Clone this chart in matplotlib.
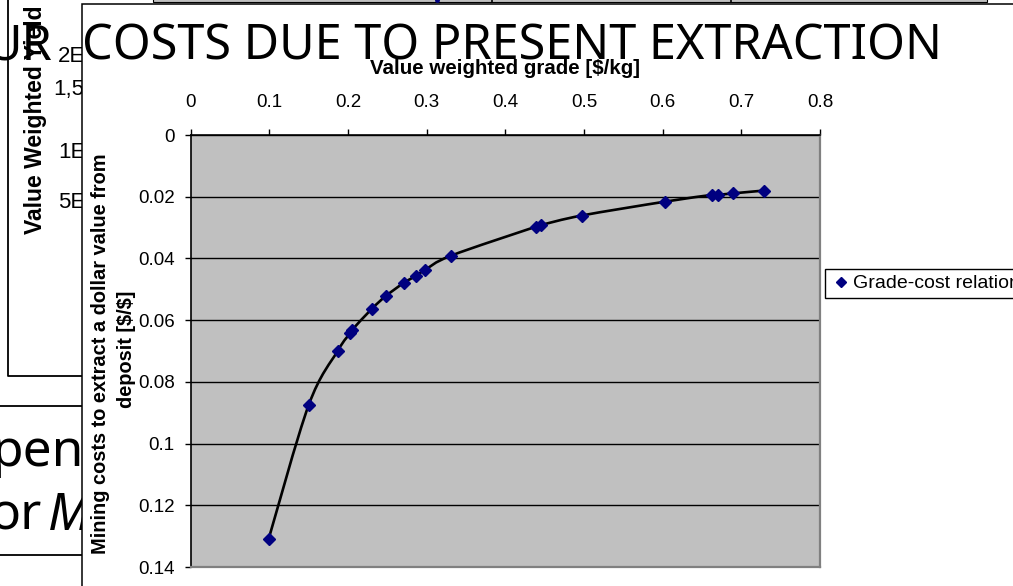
import numpy as np
import matplotlib
matplotlib.use("Agg")
import matplotlib.pyplot as plt
from matplotlib.path import Path
from matplotlib.patches import PathPatch, Rectangle

plt.rcParams['font.family'] = ['Liberation Sans', 'DejaVu Sans']

# grade vs. cost of extracting one dollar of value
grade = [0.099, 0.150, 0.187, 0.203, 0.205, 0.230, 0.248, 0.271, 0.286, 0.298,
         0.331, 0.439, 0.445, 0.497, 0.603, 0.663, 0.670, 0.690, 0.729]
cost = [0.131, 0.0875, 0.0699, 0.0641, 0.0632, 0.0564, 0.0522, 0.0479, 0.0457, 0.0437,
        0.0391, 0.0297, 0.0292, 0.0261, 0.0216, 0.0194, 0.0194, 0.0189, 0.0180]

x_ticks = [0, 0.1, 0.2, 0.3, 0.4, 0.5, 0.6, 0.7, 0.8]
x_ticklabels = ['0', '0.1', '0.2', '0.3', '0.4', '0.5', '0.6', '0.7', '0.8']
y_ticks = [0, 0.02, 0.04, 0.06, 0.08, 0.1, 0.12, 0.14]
y_ticklabels = ['0', '0.02', '0.04', '0.06', '0.08', '0.1', '0.12', '0.14']

# slide leftovers behind the chart
old_ticks = ['2E+09', '1,5E+09', '1E+09', '5E+08']

W, H = 1013, 586


def fx(px):
    return px / W


def fy(py):
    return 1 - py / H


fig = plt.figure(figsize=(W / 100, H / 100), dpi=100)

# background layer in pixel coordinates
bg = fig.add_axes([0, 0, 1, 1])
bg.set_xlim(0, W)
bg.set_ylim(H, 0)
bg.set_axis_off()
bg.set_zorder(-1)

bg.plot([8, 8, 90], [-5, 376, 376], color='black', lw=1.3, zorder=2)
bg.plot([-5, 90], [406, 406], color='black', lw=1.3, zorder=2)
bg.plot([-5, 90], [555, 555], color='black', lw=1.3, zorder=2)
bg.text(36, 234, 'Value Weighted Yield', rotation=90, ha='center', va='bottom',
        fontsize=16.5, fontweight='bold', zorder=2)
for lab, xx, yy in zip(old_ticks, [58, 53, 58, 58], [57, 90, 152, 202]):
    bg.text(xx, yy, lab, ha='left', va='center', fontsize=16, zorder=2)
bg.text(84, 466, 'pen', ha='right', va='baseline', fontsize=37,
        family=['Noto Sans', 'DejaVu Sans'], zorder=2)
bg.text(42, 530, 'or', ha='right', va='baseline', fontsize=37,
        family=['Noto Sans', 'DejaVu Sans'], zorder=2)
bg.text(48, 530, 'M', ha='left', va='baseline', fontsize=37, style='italic',
        family=['Noto Sans', 'DejaVu Sans'], zorder=2)

# chart object frame
bg.add_patch(Rectangle((82, 3.5), 1000, 600, facecolor='white',
                       edgecolor='black', lw=1.1, zorder=5))
bg.add_patch(Rectangle((153, -5), 834, 7.2, facecolor='#c0c0c0',
                       edgecolor='black', lw=0.8, zorder=6))
for xx in [492, 731]:
    bg.plot([xx, xx], [-1, 2.2], color='black', lw=1.2, zorder=7)
bg.plot([437], [0], 'o', ms=2.5, color='#000080', zorder=7)

# main plot area
ax = fig.add_axes([fx(190.7), fy(567), (820 - 190.7) / W, (567 - 135) / H])
ax.set_facecolor('#c0c0c0')
ax.set_xlim(0, 0.8)
ax.set_ylim(0.14, 0)
ax.xaxis.tick_top()
ax.set_xticks(x_ticks)
ax.set_xticklabels(x_ticklabels)
ax.set_yticks(y_ticks)
ax.set_yticklabels(y_ticklabels)
ax.tick_params(axis='x', direction='out', length=4, width=1, pad=13, labelsize=13.5)
ax.tick_params(axis='y', direction='out', length=4.5, width=1, pad=7, labelsize=13.5)
ax.yaxis.grid(True, color='black', lw=1.0)
ax.set_axisbelow(True)
for s in ['left', 'top']:
    ax.spines[s].set_color('black')
    ax.spines[s].set_linewidth(1.2)
for s in ['right', 'bottom']:
    ax.spines[s].set_color('#808080')
    ax.spines[s].set_linewidth(1.6)

# smoothed line through the points (cubic Bezier segments)
pts = np.column_stack([grade, cost])
n = len(pts)
verts = [pts[0]]
codes = [Path.MOVETO]
for i in range(n - 1):
    p0 = pts[max(i - 1, 0)]
    p1 = pts[i]
    p2 = pts[i + 1]
    p3 = pts[min(i + 2, n - 1)]
    verts += [p1 + (p2 - p0) / 6, p2 - (p3 - p1) / 6, p2]
    codes += [Path.CURVE4] * 3
ax.add_patch(PathPatch(Path(verts, codes), fill=False, edgecolor='black',
                       lw=1.9, zorder=3))
ax.plot(grade, cost, linestyle='none', marker='D', ms=6, color='#000080',
        mec='#000080', label='Grade-cost relation', zorder=4)

leg = ax.legend(loc='upper left', bbox_to_anchor=(fx(825), fy(269)),
                bbox_transform=fig.transFigure, frameon=True, fancybox=False,
                edgecolor='black', borderaxespad=0, borderpad=0.3,
                handlelength=1.0, handletextpad=0.15, fontsize=14,
                markerscale=0.8, numpoints=1)
leg.get_frame().set_linewidth(1)
leg.get_frame().set_alpha(None)

fig.text(fx(505), fy(69), 'Value weighted grade [$/kg]', ha='center', va='center',
         fontsize=14.8, fontweight='bold', parse_math=False)
fig.text(fx(100), fy(354), 'Mining costs to extract a dollar value from', rotation=90,
         ha='center', va='center', fontsize=14.4, fontweight='bold', parse_math=False)
fig.text(fx(127), fy(349), 'deposit [$/$]', rotation=90, ha='center', va='center',
         fontsize=14.4, fontweight='bold', parse_math=False)

# slide title on top of everything
title_font = ['Noto Sans', 'DejaVu Sans']
fig.text(fx(52), fy(60), 'UR', ha='right', va='baseline', fontsize=35,
         zorder=10, family=title_font)
fig.text(fx(942), fy(60), 'COSTS DUE TO PRESENT EXTRACTION', ha='right',
         va='baseline', fontsize=35, zorder=10, family=title_font)

fig.savefig('out.png', dpi=100)
